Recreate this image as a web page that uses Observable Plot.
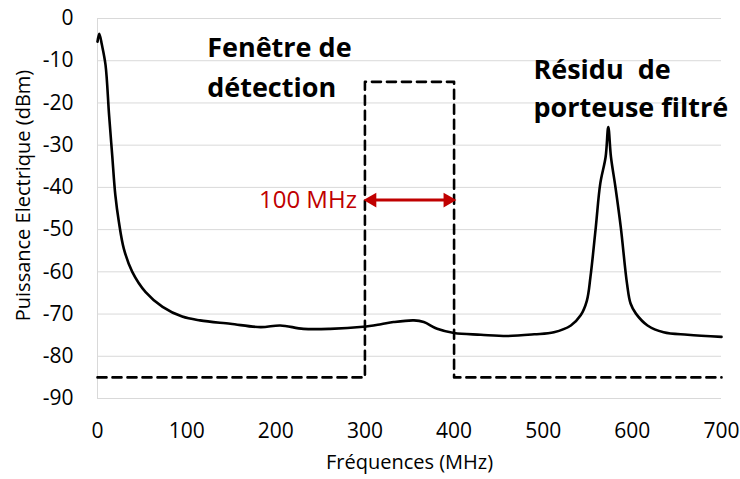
<!DOCTYPE html>
<html>
<head>
<meta charset="utf-8">
<script src="https://cdn.jsdelivr.net/npm/d3@7"></script>
<script src="https://cdn.jsdelivr.net/npm/@observablehq/plot@0.6"></script>
<style>
  html, body { margin: 0; padding: 0; background: #fff; }
  #chart svg { display: block; }
</style>
</head>
<body>
<div id="chart"></div>
<script>
// Spectrum (MHz, dBm)
const freq = [0, 2, 5, 9, 13, 16.5, 20, 24, 29.5, 39, 54, 73, 95, 115, 149, 183, 205, 231, 261, 298, 318, 332, 355, 366, 381, 400, 430, 460, 490, 512, 531, 542, 549, 553, 559, 564, 570, 573, 576, 581, 587, 594, 598, 604, 617, 635, 662, 700];
const power = [-5.5, -3.6, -6.3, -11, -22.9, -32.4, -41.8, -48.2, -54.5, -60, -64.8, -68.3, -70.6, -71.5, -72.3, -73.1, -72.7, -73.5, -73.5, -73, -72.4, -71.9, -71.5, -71.9, -73.5, -74.5, -74.9, -75.2, -74.8, -74.3, -72.7, -70.3, -66.8, -61.2, -49.4, -39.1, -32.8, -25.7, -32.8, -39.9, -49.4, -62.8, -67.5, -69.9, -72.7, -74.3, -74.9, -75.4];

// Detection window (dashed)
const windowX = [0, 300, 300, 400, 400, 700];
const windowY = [-85, -85, -15, -15, -85, -85];

// Tick values
const xTicks = [0, 100, 200, 300, 400, 500, 600, 700];
const yTicks = [0, -10, -20, -30, -40, -50, -60, -70, -80, -90];

// Annotations
const boldLabels = ["Fenêtre de", "détection", "Résidu  de", "porteuse filtré"];
const boldLabelX = [123, 123, 489, 489];
const boldLabelY = [-7.0, -16.5, -12.3, -21.3];
const widthLabel = "100 MHz";
const widthLabelX = 291;
const widthLabelY = -43;
const arrowFrom = 304;
const arrowTo = 397;

const spectrum = freq.map((f, i) => ({f, p: power[i]}));
const win = windowX.map((x, i) => ({x, y: windowY[i]}));
const bold = boldLabels.map((t, i) => ({t, x: boldLabelX[i], y: boldLabelY[i]}));

const FONT = "'Open Sans', Lato, sans-serif";
const RED = "#c00000";
const fmt = d => String(d);

const chart = Plot.plot({
  width: 740,
  height: 479,
  marginLeft: 97,
  marginRight: 19,
  marginTop: 18,
  marginBottom: 81,
  style: {fontFamily: FONT, color: "#000", background: "#fff"},
  x: {domain: [0, 700]},
  y: {domain: [-90, 0]},
  marks: [
    Plot.gridY(yTicks, {stroke: "#d9d9d9", strokeOpacity: 1, strokeWidth: 1}),
    Plot.ruleX([0], {stroke: "#d9d9d9", strokeWidth: 1}),
    Plot.axisY(yTicks, {tickSize: 0, tickPadding: 24, fontSize: 21, label: null, fill: "#000", tickFormat: fmt}),
    Plot.axisX(xTicks, {tickSize: 0, tickPadding: 25, fontSize: 21, label: null, fill: "#000", tickFormat: fmt}),
    Plot.text(["Puissance Electrique (dBm)"], {frameAnchor: "left", textAnchor: "middle", rotate: -90, dx: -74, dy: -13, fontSize: 20, fill: "#000"}),
    Plot.text(["Fréquences (MHz)"], {frameAnchor: "bottom", dy: 70, fontSize: 20, fill: "#000"}),
    Plot.line(win, {x: "x", y: "y", stroke: "#000", strokeWidth: 2.6, strokeDasharray: "9,6"}),
    Plot.line(spectrum, {x: "f", y: "p", stroke: "#000", strokeWidth: 2.6, curve: "catmull-rom"}),
    Plot.link([{a: arrowFrom + 6, b: arrowTo - 6, y: widthLabelY}], {x1: "a", x2: "b", y1: "y", y2: "y", stroke: RED, strokeWidth: 3}),
    Plot.dot([{x: arrowFrom + 4, y: widthLabelY}], {x: "x", y: "y", symbol: "triangle", rotate: -90, r: 5.5, fill: RED, stroke: "none"}),
    Plot.dot([{x: arrowTo - 4, y: widthLabelY}], {x: "x", y: "y", symbol: "triangle", rotate: 90, r: 5.5, fill: RED, stroke: "none"}),
    Plot.text([widthLabel], {x: widthLabelX, y: widthLabelY, textAnchor: "end", fontSize: 24, fill: RED}),
    Plot.text(bold, {x: "x", y: "y", text: "t", textAnchor: "start", fontSize: 27, fontWeight: "bold", fill: "#000"})
  ]
});
document.getElementById("chart").append(chart);
</script>
</body>
</html>
